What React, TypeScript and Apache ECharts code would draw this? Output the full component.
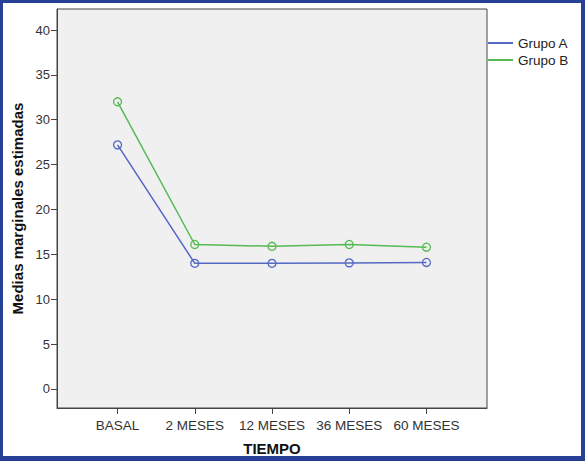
import React, { useEffect, useRef } from "react";
import * as echarts from "echarts";

const categories = ["BASAL", "2 MESES", "12 MESES", "36 MESES", "60 MESES"];
const grupoA = [27.2, 14.0, 14.0, 14.05, 14.1];
const grupoB = [32.0, 16.1, 15.9, 16.1, 15.8];
const yTicks = [0, 5, 10, 15, 20, 25, 30, 35, 40];
const seriesNames = ["Grupo A", "Grupo B"];
const seriesColors = ["#5468C4", "#55BA55"];

const FONT = "'Liberation Sans', Arial, sans-serif";
const BORDER = "#273F97";

export default function App() {
  const ref = useRef<HTMLDivElement>(null);
  useEffect(() => {
    if (!ref.current) return;
    const chart = echarts.init(ref.current, undefined, { renderer: "svg" });
    const idx = categories.map((_, i) => i);
    const values = [grupoA, grupoB];
    chart.setOption({
      animation: false,
      backgroundColor: "#ffffff",
      textStyle: { fontFamily: FONT },
      grid: {
        left: 57,
        right: 98,
        top: 9,
        bottom: 53,
        show: true,
        backgroundColor: "#F0F0F0",
        borderColor: "#444444",
        borderWidth: 1,
      },
      legend: {
        orient: "vertical",
        left: 488,
        top: 36,
        padding: 0,
        itemWidth: 25,
        itemHeight: 2,
        itemGap: 3,
        icon: "rect",
        itemStyle: { borderWidth: 0 },
        textStyle: { fontSize: 13.5, color: "#222", fontFamily: FONT },
        data: seriesNames.map((n, i) => ({
          name: n,
          itemStyle: { color: seriesColors[i], borderWidth: 0 },
        })),
      },
      xAxis: {
        type: "value",
        min: -0.784,
        max: 4.784,
        axisLine: { show: true, onZero: false, lineStyle: { color: "#444", width: 1 } },
        axisTick: {
          show: true,
          length: 6,
          customValues: idx,
          lineStyle: { color: "#444" },
        },
        axisLabel: {
          customValues: idx,
          formatter: (v: number) => categories[Math.round(v)] ?? "",
          color: "#333",
          fontSize: 13.5,
          margin: 10,
          fontFamily: FONT,
        },
        splitLine: { show: false },
        name: "TIEMPO",
        nameLocation: "middle",
        nameGap: 33,
        nameTextStyle: { fontWeight: "bold", fontSize: 15, color: "#111", fontFamily: FONT },
      },
      yAxis: {
        type: "value",
        min: -2.12,
        max: 42.34,
        axisLine: { show: true, onZero: false, lineStyle: { color: "#444", width: 1 } },
        axisTick: {
          show: true,
          length: 6,
          customValues: yTicks,
          lineStyle: { color: "#444" },
        },
        axisLabel: {
          customValues: yTicks,
          color: "#333",
          fontSize: 13,
          margin: 7,
          fontFamily: FONT,
        },
        splitLine: { show: false },
        name: "Medias marginales estimadas",
        nameLocation: "middle",
        nameGap: 32,
        nameTextStyle: { fontWeight: "bold", fontSize: 15, color: "#111", fontFamily: FONT },
      },
      series: seriesNames.map((n, s) => ({
        name: n,
        type: "line",
        data: values[s].map((v, i) => [i, v]),
        symbol: "circle",
        symbolSize: 8,
        lineStyle: { color: seriesColors[s], width: 1.5 },
        itemStyle: { color: "rgba(0,0,0,0)", borderColor: seriesColors[s], borderWidth: 1.3 },
      })),
      graphic: [
        { type: "rect", shape: { x: 0, y: 0, width: 585, height: 3 }, style: { fill: BORDER }, silent: true },
        { type: "rect", shape: { x: 0, y: 0, width: 3, height: 461 }, style: { fill: BORDER }, silent: true },
        { type: "rect", shape: { x: 581, y: 0, width: 4, height: 461 }, style: { fill: BORDER }, silent: true },
        { type: "rect", shape: { x: 0, y: 456, width: 585, height: 5 }, style: { fill: BORDER }, silent: true },
      ],
    });
    return () => chart.dispose();
  }, []);
  return (
    <div
      ref={ref}
      style={{ position: "fixed", left: 0, top: 0, width: 585, height: 461 }}
    />
  );
}
